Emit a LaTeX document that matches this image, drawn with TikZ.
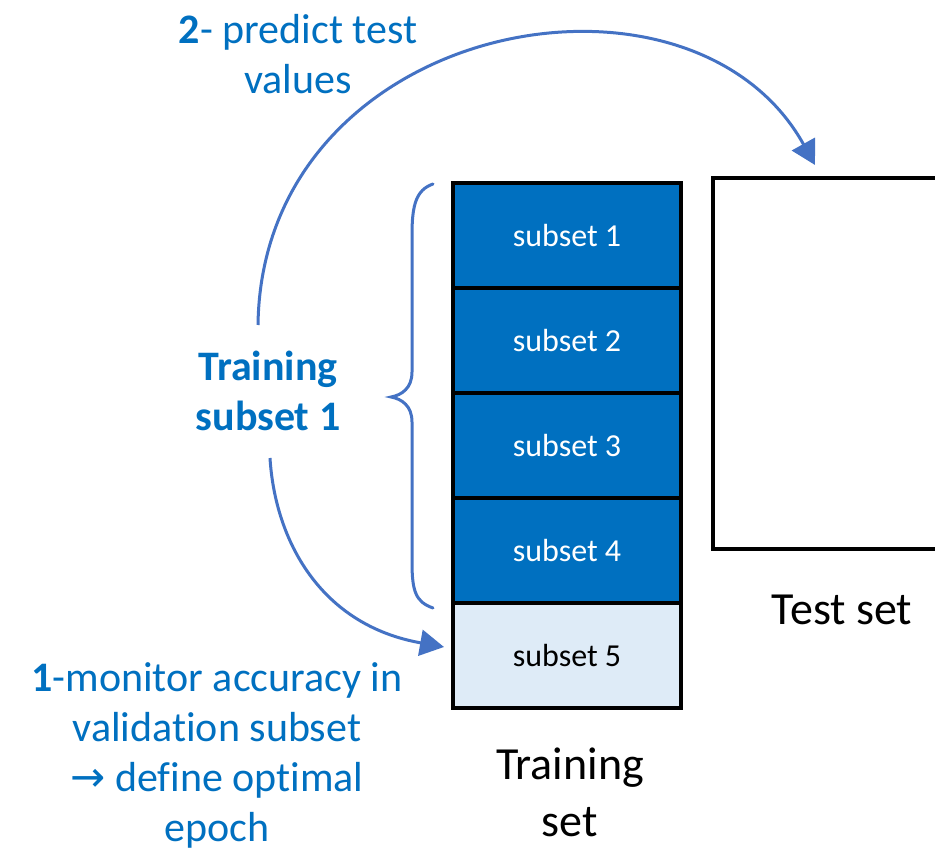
\documentclass[tikz,border=0pt]{standalone}
\usepackage{fontspec}
\setmainfont{Carlito}[Ligatures=NoCommon, RawFeature={-liga;-clig;-dlig}]
\newfontfamily\arrowfont{DejaVu Sans}
\usetikzlibrary{arrows.meta}
\definecolor{txtblue}{HTML}{0070C0}
\definecolor{lineblue}{HTML}{4472C4}
\definecolor{darkfill}{HTML}{0070C0}
\definecolor{lightfill}{HTML}{DEEBF7}
\tikzset{
  subsetbox/.style={draw=black, line width=4pt, minimum width=228pt, minimum height=105pt,
    inner sep=0pt, font=\fontsize{32}{38}\selectfont},
  trainbox/.style={subsetbox, fill=darkfill, text=white},
  valbox/.style={subsetbox, fill=lightfill, text=black},
  caption/.style={font=\fontsize{46}{57}\selectfont, align=center, inner sep=0pt},
  bluelabel/.style={text=txtblue, font=\fontsize{42}{50}\selectfont, align=center, inner sep=0pt},
  flow/.style={draw=lineblue, line width=3pt, -{Triangle[length=24pt,width=26pt]}},
  bracket/.style={draw=lineblue, line width=3pt, line cap=round}
}
\begin{document}
\begin{tikzpicture}[x=1pt,y=-1pt]
\clip (0,0) rectangle (935,850);
\fill[white] (0,0) rectangle (935,850);

% training set split into five folds
\node[trainbox] (s1) at (567,235.5) {subset 1};
\node[trainbox] (s2) at (567,340.5) {subset 2};
\node[trainbox] (s3) at (567,445.5) {subset 3};
\node[trainbox] (s4) at (567,550.5) {subset 4};
\node[valbox]   (s5) at (567,655.5) {subset 5};

% test set (runs off the right edge)
\node[draw=black, line width=4pt, minimum width=250pt, minimum height=371pt, inner sep=0pt] (test) at (838,363.5) {};

% captions
\node[caption] (trcap) at (570,792) {Training\\set};
\node[caption] (tecap) at (842,610) {Test set};

% brace grouping the four training folds
\draw[bracket] (433,184) .. controls (416,190) and (412,205) .. (412,235)
  -- (412,372) .. controls (412,388) and (402,395) .. (391,397)
  .. controls (402,399) and (412,406) .. (412,422)
  -- (412,562) .. controls (412,592) and (416,602) .. (433,608);

% labels
\node[bluelabel, font=\bfseries\fontsize{42}{50}\selectfont] (tsub) at (268,391) {Training\\subset 1};
\node[bluelabel] (pred) at (298,54) {\textbf{2}- predict test\\values};
\node[bluelabel] (mon) at (217,755) {\textbf{1}-monitor accuracy in\\validation subset\\{\arrowfont→} define optimal\\epoch};

% connectors
\coordinate (a2start) at (258,325);
\coordinate (a2end) at (815,165);
\coordinate (a1start) at (270,458);
\coordinate (a1end) at (444,647);
\draw[flow] (a2start) .. controls (262,20) and (690,-60) .. (a2end);
\draw[flow] (a1start) .. controls (275,540) and (320,625) .. (a1end);
\end{tikzpicture}
\end{document}
